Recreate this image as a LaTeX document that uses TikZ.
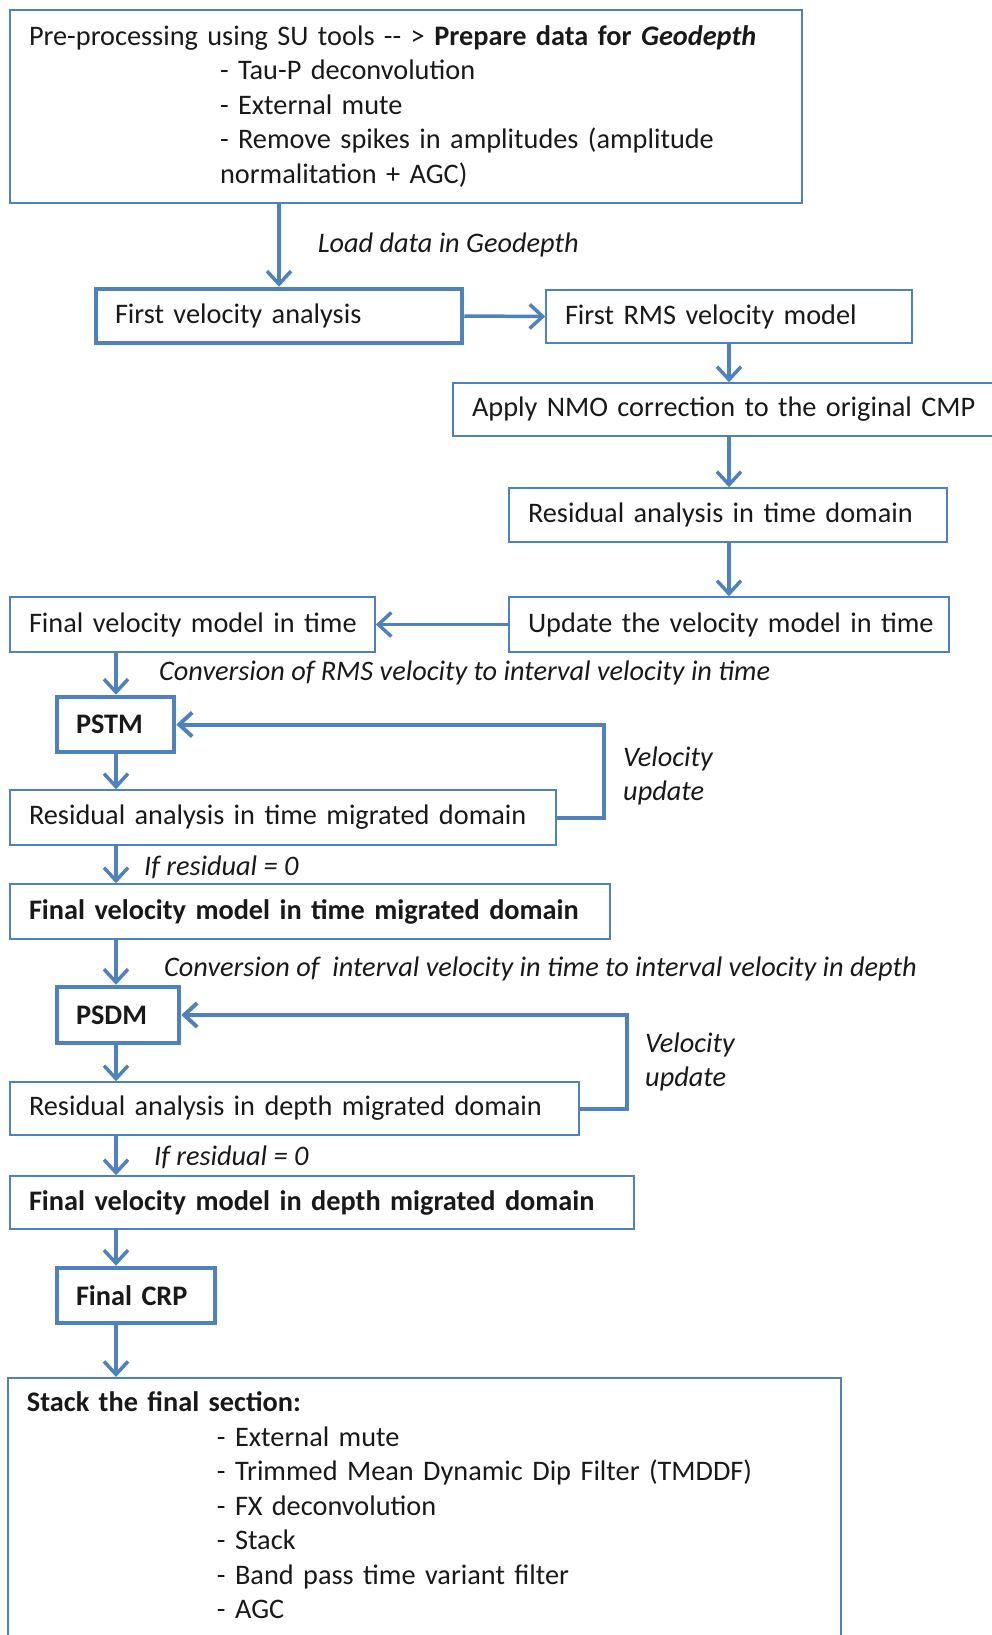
\documentclass[tikz,border=0pt]{standalone}
\usepackage{fontspec}
\setmainfont{Carlito}
\usetikzlibrary{arrows.meta}
\definecolor{flowblue}{RGB}{79,129,189}

\begin{document}
\begin{tikzpicture}[x=1pt, y=-1pt]
	\tikzstyle{box}      = [rectangle, draw=flowblue, line width=1.5pt, inner xsep=19pt, inner ysep=0pt, align=left, text=black!90, font=\fontsize{28.3}{34.5}\selectfont]
	\tikzstyle{boldbox}  = [box, line width=4.5pt, font=\fontsize{28.3}{34.5}\selectfont\bfseries]
	\tikzstyle{note}     = [inner sep=0pt, anchor=west, align=left, text=black!90, font=\fontsize{28.3}{34.5}\selectfont\itshape]
	\tikzstyle{arr}      = [draw=flowblue, line width=3.5pt, -{Straight Barb[length=13pt, width=24pt]}]
	\tikzstyle{loop}     = [arr, line width=4pt]

	\useasboundingbox (0,0) rectangle (991,1635);

%	\draw[step=100pt, gray!50] (0,0) grid (991,1635);

	\node[box, text width=754pt, minimum height=193pt] (pre) at (406, 106.5)
		{Pre-processing using SU tools -{}- > \textbf{Prepare data for \textit{Geodepth}}\\
		\hspace*{191pt}- Tau-P deconvolution\\
		\hspace*{191pt}- External mute\\
		\hspace*{191pt}- Remove spikes in amplitudes (amplitude\\
		\hspace*{191pt}normalitation + AGC)};

	\node[box, line width=4.5pt, text width=328pt, minimum height=54pt] (fva) at (279, 316) {\mbox{First velocity analysis}};
	\node[box, text width=328pt, minimum height=53pt] (rms) at (729, 316.5) {\mbox{First RMS velocity model}};
	\node[box, text width=520pt, minimum height=53pt] (nmo) at (732, 409.5) {\mbox{Apply NMO correction to the original CMP}};
	\node[box, text width=400pt, minimum height=54pt] (rtd) at (728, 515) {\mbox{Residual analysis in time domain}};
	\node[box, text width=402pt, minimum height=55pt] (upd) at (729, 624.5) {\mbox{Update the velocity model in time}};
	\node[box, text width=327pt, minimum height=55pt] (fvt) at (192.5, 624.5) {\mbox{Final velocity model in time}};

	\node[boldbox, text width=79pt, minimum height=55pt] (pstm) at (115.5, 724.5) {PSTM};
	\node[box, text width=508pt, minimum height=55pt] (rtm) at (283, 817.5) {\mbox{Residual analysis in time migrated domain}};
	\node[box, text width=562pt, minimum height=55pt, font=\fontsize{28.3}{34.5}\selectfont\bfseries] (fvtm) at (310, 911.5) {\mbox{Final velocity model in time migrated domain}};

	\node[boldbox, text width=84pt, minimum height=56pt] (psdm) at (118, 1015) {PSDM};
	\node[box, text width=531pt, minimum height=53pt] (rdm) at (294.5, 1108.5) {\mbox{Residual analysis in depth migrated domain}};
	\node[box, text width=586pt, minimum height=53pt, font=\fontsize{28.3}{34.5}\selectfont\bfseries] (fvdm) at (322, 1202.5) {\mbox{Final velocity model in depth migrated domain}};

	\node[boldbox, text width=120pt, minimum height=55pt] (crp) at (136, 1295.5) {\mbox{Final CRP}};

	% box runs on past the bottom edge
	\node[box, text width=795pt, inner ysep=14pt, anchor=north] (stack) at (424.5, 1377)
		{\textbf{Stack the final section:}\\
		\hspace*{190pt}- External mute\\
		\hspace*{190pt}- Trimmed Mean Dynamic Dip Filter (TMDDF)\\
		\hspace*{190pt}- FX deconvolution\\
		\hspace*{190pt}- Stack\\
		\hspace*{190pt}- Band pass time variant filter\\
		\hspace*{190pt}- AGC\\[10pt]\strut};

	% arrow columns and loop corners
	\coordinate (lcol) at (116, 0);
	\coordinate (rcol) at (729, 0);
	\coordinate (turn1) at (604, 724.5);
	\coordinate (turn2) at (627, 1015);

	\draw[arr] (fva.north |- pre.south) -- (fva.north)
		node[note, pos=0.5, xshift=37pt] (load) {Load data in Geodepth};
	\draw[arr] (fva.east) -- (rms.west);

	\foreach \from/\to in {rms/nmo, nmo/rtd, rtd/upd}
		\draw[arr] (rcol |- \from.south) -- (rcol |- \to.north);

	\draw[arr] (upd.west) -- (fvt.east);

	\foreach \from/\to in {fvt/pstm, pstm/rtm, rtm/fvtm, fvtm/psdm, psdm/rdm, rdm/fvdm, fvdm/crp, crp/stack}
		\draw[arr] (lcol |- \from.south) -- (lcol |- \to.north);

	\draw[loop] (rtm.east) -| (turn1) -- (pstm.east);
	\draw[loop] (rdm.east) -| (turn2) -- (psdm.east);

	\node[note] (conv1) at (159, 673) {Conversion of RMS velocity to interval velocity in time};
	\node[note] (vup1) at (623, 776) {Velocity\\update};
	\node[note] (ifres1) at (144, 867) {If residual = 0};
	\node[note] (conv2) at (164, 969) {Conversion of \ interval velocity in time to interval velocity in depth};
	\node[note] (vup2) at (645, 1062) {Velocity\\update};
	\node[note] (ifres2) at (154, 1157) {If residual = 0};

\end{tikzpicture}
\end{document}
